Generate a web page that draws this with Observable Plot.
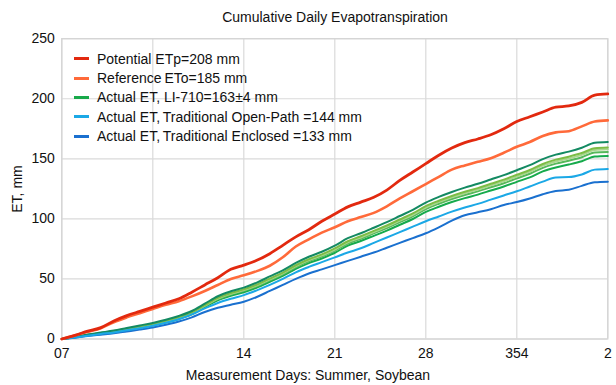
<!DOCTYPE html>
<html>
<head>
<meta charset="utf-8">
<script src="https://cdn.jsdelivr.net/npm/d3@7"></script>
<script src="https://cdn.jsdelivr.net/npm/@observablehq/plot@0.6"></script>
<style>
  html, body { margin: 0; padding: 0; background: #fff; }
  #wrap { position: relative; width: 616px; height: 385px; font-family: "Liberation Sans", Arial, sans-serif; color: #111; }
  #wrap svg { position: absolute; left: 0; top: 0; }
  .lbl { position: absolute; white-space: nowrap; font-size: 14px; }
  #title { left: 0; width: 670px; top: 9px; text-align: center; font-size: 14px; }
  #xtitle { left: 0; width: 616px; top: 367px; text-align: center; }
  #ytitle { left: 17px; top: 189px; transform: translate(-50%, -50%) rotate(-90deg); }
  #legend { position: absolute; left: 74px; top: 49px; font-size: 14px; }
  .row { height: 19.4px; display: flex; align-items: center; }
  .sw { width: 15px; height: 3px; margin-right: 8px; }
</style>
</head>
<body>
<div id="wrap">
  <div id="title" class="lbl">Cumulative Daily Evapotranspiration</div>
  <div id="xtitle" class="lbl">Measurement Days: Summer, Soybean</div>
  <div id="ytitle" class="lbl">ET, mm</div>
  <div id="legend"></div>
</div>
<script>
// ---- data ----
const days = [0,1,2,3,4,5,6,7,8,9,10,11,12,13,14,15,16,17,18,19,20,21,22,23,24,25,26,27,28,29,30,31,32,33,34,35,36,37,38,39,40,41,42];
const xTickDays = [0,7,14,21,28,35,42];
const xTickLabels = ["07","","14","21","28","354","2"];
const yTicks = [0,50,100,150,200,250];

const potentialETp = [0,3,6.5,9.5,15,19.5,23,26.5,30,33.5,39,45,51,58,61.5,65.5,71,78,85,91,98,104,110,114,118,124,132,139,146,153,159,163.5,166.5,170,175,181,185,189,193,194,197,203,204];
const referenceETo = [0,3,6,9,14,18,21.5,25,28.5,31.5,35.5,40,45,50,53,56.5,61,68,77,83,88.5,93,98,101.5,105,110.5,117,123,129,135,141,144.5,147.5,150.5,155,160,164,169,172,173,177,181,182];
const li710a = [0,1.6,3.8,5.4,7,9.2,11.3,13.4,16,19.2,23.3,29.4,35.6,39.7,42.8,47,52.1,57.2,63.3,68.5,72.6,77.7,83.9,88,92.6,97.3,102.4,107.5,113.6,118.3,122.4,126,129.2,132.8,136.4,140.5,144.7,149.8,153.5,156,159.2,163.3,164];
const li710b = [0,1.5,3.5,5,6.6,8.6,10.6,12.6,15.2,18.2,22.2,28.2,34.2,38.3,41.3,45.3,50.3,55.3,61.4,66.4,70.4,75.4,81.4,85.5,90,94.5,99.5,104.5,110.6,115.1,119.1,122.6,125.6,129.2,132.7,136.7,140.7,145.7,149.3,151.8,154.8,158.8,159.4];
const li710c = [0,1.5,3.4,4.9,6.4,8.4,10.4,12.3,14.8,17.8,21.8,27.7,33.7,37.7,40.7,44.7,49.7,54.6,60.6,65.6,69.6,74.5,80.5,84.5,89,93.5,98.5,103.4,109.4,113.9,117.9,121.4,124.4,127.9,131.3,135.3,139.3,144.3,147.8,150.3,153.3,157.4,158];
const li710d = [0,1.4,3.4,4.8,6.2,8.2,10.1,12,14.5,17.4,21.3,27.3,33.2,37.1,40.1,44,48.9,53.9,59.8,64.7,68.7,73.6,79.5,83.5,87.9,92.3,97.3,102.2,108.1,112.6,116.5,119.9,122.9,126.3,129.7,133.7,137.6,142.5,146,148.4,151.3,155.3,155.7];
const li710e = [0,1.4,3.2,4.6,5.9,7.8,9.6,11.5,13.8,16.7,20.5,26.4,32.2,36,38.9,42.8,47.6,52.5,58.3,63.2,67,71.8,77.7,81.6,85.9,90.2,95.1,99.9,105.8,110.1,114,117.3,120.2,123.6,127,130.8,134.6,139.5,142.8,145.2,148,151.9,152.4];
const openPath = [0,1.2,2.8,4.2,5.5,7.2,9,11,13.5,16.5,20.5,25.5,30,33.5,36.5,40.5,45,50,55.5,60,64,68,72,75.5,80,84.5,89,93.5,98,102,106,109.5,112.5,116,119.5,123,127,131,134.5,134.8,137,141,141.6];
const enclosed = [0,1,2.4,3.6,4.8,6.3,7.8,9.5,11.8,14.5,18,22.5,26,28.5,31,35,40,45,50,54.5,58,61.5,65,68.5,72,76,80,84,88,93,98.5,103,105.5,108,111.5,114,117,120.5,123.2,124.2,127.5,130.5,131];

const legendLabels = ["Potential ETp=208 mm","Reference\u2009ETo=185 mm","Actual ET, LI-710=163±4 mm","Actual ET,\u2009Traditional Open-Path =144 mm","Actual ET,\u2009Traditional Enclosed =133 mm"];
const legendColors = ["#e2290f","#ff6a3a","#18a94a","#1ba8e6","#1a70cf"];

// ---- series (draw order: greens, blues, orange, red) ----
const series = [
  {vals: li710e, color: "#16aa4c", w: 2},
  {vals: li710d, color: "#56b85a", w: 2},
  {vals: li710c, color: "#a9d68e", w: 2},
  {vals: li710b, color: "#7cbd45", w: 2},
  {vals: li710a, color: "#138a62", w: 2},
  {vals: enclosed, color: legendColors[4], w: 2},
  {vals: openPath, color: legendColors[3], w: 2},
  {vals: referenceETo, color: legendColors[1], w: 2.6},
  {vals: potentialETp, color: legendColors[0], w: 2.8}
];

const lineMarks = series.map(s => Plot.line(days.map((d, i) => ({day: d, v: s.vals[i]})), {
  x: "day", y: "v", stroke: s.color, strokeWidth: s.w, curve: "monotone-x"
}));

const chart = Plot.plot({
  width: 616,
  height: 385,
  marginLeft: 61.3,
  marginRight: 8.7,
  marginTop: 38.2,
  marginBottom: 46.5,
  style: {fontFamily: "'Liberation Sans', Arial, sans-serif", fontSize: "14px", color: "#111", background: "transparent"},
  x: {domain: [0, 42]},
  y: {domain: [0, 250]},
  marks: [
    Plot.gridY(yTicks, {stroke: "#dadada", strokeOpacity: 1, strokeWidth: 1.2}),
    Plot.gridX(xTickDays, {stroke: "#dadada", strokeOpacity: 1, strokeWidth: 1.2}),
    Plot.frame({stroke: "#d4d4d4", strokeWidth: 1.2}),
    Plot.axisY(yTicks, {tickSize: 0, tickPadding: 7, label: null, fontSize: 14, fill: "#111"}),
    Plot.axisX(xTickDays, {tickSize: 0, tickPadding: 9, label: null, fontSize: 14, fill: "#111",
      tickFormat: d => xTickLabels[xTickDays.indexOf(d)]}),
    ...lineMarks
  ]
});
document.getElementById("wrap").prepend(chart);

const legend = document.getElementById("legend");
legendLabels.forEach((t, i) => {
  const r = document.createElement("div");
  r.className = "row";
  const sw = document.createElement("div");
  sw.className = "sw";
  sw.style.background = legendColors[i];
  const tx = document.createElement("span");
  tx.textContent = t;
  r.appendChild(sw); r.appendChild(tx);
  legend.appendChild(r);
});
</script>
</body>
</html>
